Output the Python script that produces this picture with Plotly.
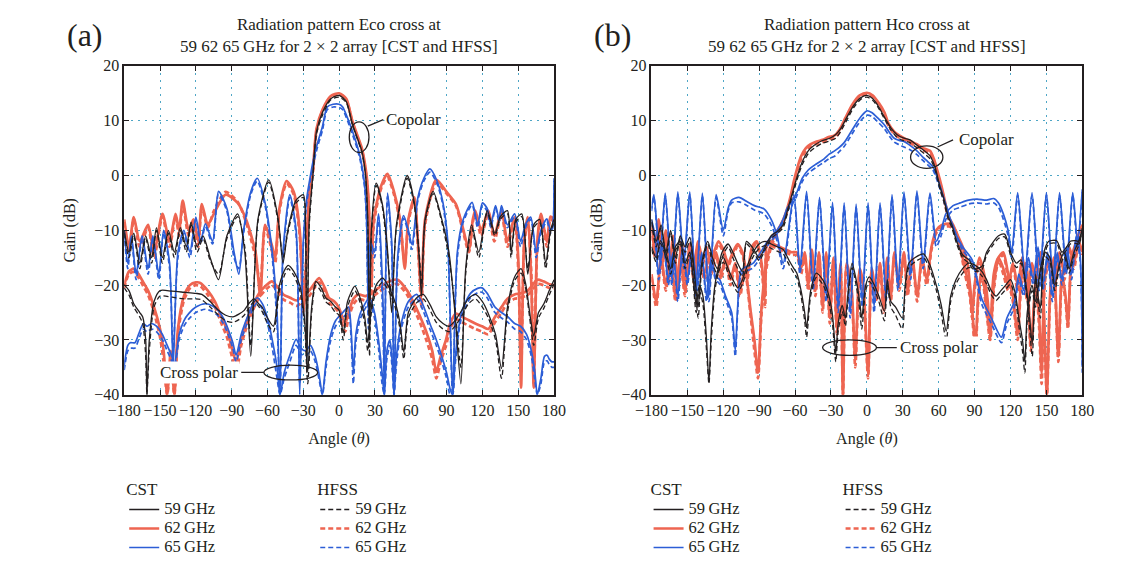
import plotly.graph_objects as go

# ---------------- data: (angle deg, CST gain dB, HFSS gain dB) ----------------
ANGLE_TICKS = list(range(-180, 181, 30))
GAIN_TICKS = list(range(-40, 21, 10))
FREQS = ["59", "62", "65"]

# Panel (a) Eco – copolar
A_CO59 = [(-180,-10,-10.5),(-176,-14,-15),(-172,-10.5,-11),(-167,-16,-17),(-162,-11,-11.5),(-157,-15,-16),
 (-153,-9.5,-10),(-148,-15,-16),(-143,-10,-10.5),(-138,-14,-15),(-133,-9.5,-10),(-128,-13,-14),(-124,-8.5,-9),
 (-119,-13,-14),(-114,-11,-11.5),(-108,-15,-15.5),(-101,-19,-18),(-94,-11,-11.5),(-85,-7,-7.5),(-79,-14,-13),
 (-74,-33,-31),(-68,-8,-8.5),(-59,-0.8,-1.2),(-51,-8,-8.5),(-47,-16,-15),(-43,-10,-10.5),(-36,-4.5,-5),
 (-30,-3.5,-4),(-28,-12,-11),(-27,-36,-30),(-25,-8,-9),(-22,0,-0.5),(-19,8,7.5),(-14,11.5,11),(-7,14,13.8),
 (0,14.6,14.3),(6,13.5,13.3),(11,9.5,9.3),(15,7,6.8),(19,4.5,4.2),(22,0.5,0),(24,-8,-9),(25.5,-30,-33),
 (27,-10,-11),(31,-1.4,-1.8),(36,-5,-5.5),(40,-12,-13),(44,-25,-22),(48,-9,-9.5),(57,0,-0.5),(63,-5,-5.5),
 (67,-15,-14),(69,-22,-20),(72,-8,-8.5),(78.7,-2.9,-3.3),(86,-8,-8.5),(92,-14,-15),(97,-25,-24),(102,-38,-35),
 (106,-17,-18),(111,-9,-9.5),(117,-14,-15),(124,-6.4,-6.8),(130.5,-10.5,-11),(135,-7.5,-8),(141,-6.4,-7),
 (144,-14,-15),(148,-8,-8.5),(153,-7,-7.5),(158,-18,-17),(163,-9,-9.5),(168,-8,-8.5),(173,-16,-17),
 (177,-10,-10.5),(180,-8,-8.5)]
A_CO62 = [(-180,-8,-8.5),(-176,-13,-14),(-172,-7.6,-8),(-167,-12,-13),(-160,-9,-9.5),(-155,-14,-15),(-148,-7,-7.5),
 (-142,-12,-13),(-137,-7,-7.5),(-134,-10,-11),(-131,-4.6,-5.2),(-126,-10,-11),(-122,-8,-8.5),(-118,-12,-13),
 (-115,-5.2,-5.8),(-110,-9,-9.5),(-105,-7,-6.5),(-95,-3.5,-3),(-85,-5,-4.8),(-78,-8,-8.5),(-70,-14,-15),
 (-66,-22,-20),(-62,-9,-9.5),(-56,-13,-14),(-53.6,-15,-16),(-50,-6,-6.5),(-44,-1,-1.5),(-38,-3,-3.5),
 (-33,-10,-11),(-30,-25,-22),(-28,-18,-17),(-25,-3,-3.5),(-22,1,0.5),(-19,8.5,8),(-14,12,11.8),(-7,14.5,14.3),
 (0,15,14.8),(6,14,13.8),(11,10,9.8),(15,7.5,7.2),(19,5,4.7),(23,0,-0.5),(25,-6,-7),(27,-20,-22),(29,-8,-9),
 (35,-2,-2.5),(40.5,0.3,-0.3),(46,-3,-3.5),(51,-8,-8.5),(55,-17,-16),(58,-8,-8.5),(63,-4,-4.5),(66,-12,-13),
 (69,-22,-24),(72,-8,-9),(81.4,-0.8,-1.3),(90,-3,-3.3),(97.8,-5.2,-5.5),(103,-9,-9.5),(108.7,-13.5,-14),
 (112,-8,-8.5),(114,-6.4,-7),(119,-10,-11),(125,-6.4,-7),(130,-11,-12),(136,-6.4,-7),(141,-12,-13),
 (147,-7.6,-8),(150,-15,-17),(152.4,-38.7,-36),(155,-12,-13),(158,-7.6,-8),(161,-20,-18),(163,-38.7,-38),
 (166,-12,-13),(169,-7,-7.5),(174,-12,-13),(177,-7.5,-8),(180,-8,-8.5)]
A_CO65 = [(-180,-10,-10.5),(-177,-16,-17),(-174,-11,-11.5),(-170,-18,-19),(-165,-11,-11.5),(-160,-17,-18),
 (-156,-11,-11.5),(-151,-18,-19),(-147,-10,-10.5),(-142,-16,-17),(-139,-34.6,-32),(-135,-14,-15),(-130,-10,-10.5),
 (-125,-14,-15),(-120,-7.6,-8),(-116,-12,-12.5),(-112,-8.8,-9.3),(-106,-12,-12.5),(-101,-2.9,-3.4),(-94,-6,-6.5),
 (-88,-14,-15),(-84,-18,-17),(-80,-10,-10.5),(-74,-3,-3.5),(-68.6,-0.5,-1),(-62,-5,-5.5),(-56,-14,-15),
 (-52,-25,-27),(-49.5,-40,-40),(-47,-14,-15),(-41.3,-3.5,-4),(-36,-10,-11),(-33,-40,-38),(-30,-12,-13),
 (-27,-4,-4.8),(-24,0,-0.8),(-22,2.4,1.6),(-18,6,5.3),(-14,8.9,8.2),(-10,12.5,12),(-5,13,12.5),(0,13,12.4),
 (3,12.5,12),(7,10.5,10),(11,8.2,7.6),(15,5.5,5),(18,3,2.4),(21.4,-1.7,-2.3),(23,-8,-9),(24.5,-25,-28),
 (26,-12,-13),(29.6,-14,-15),(33,-7,-7.5),(37,-25,-30),(37.8,-40,-40),(40.5,-3.2,-3.8),(44,-12,-13),
 (46,-40,-40),(49,-15,-16),(54,-7.3,-7.8),(58,-10,-10.5),(61,-12.6,-13.5),(66,-4,-4.5),(71,-0.5,-1),
 (76,1.2,0.6),(82,-1,-1.5),(87,-5,-5.5),(91,-12,-13),(95,-40,-40),(99,-14,-15),(104,-8,-8.5),
 (111.4,-4.9,-5.4),(116,-9,-9.5),(120,-5,-5.5),(124,-6,-6.5),(127,-9,-9.5),(131,-5.5,-6),(134,-8,-8.5),
 (136,-5.5,-6),(141,-9,-9.5),(147,-7,-7.5),(152,-12,-13),(156,-9,-9.5),(160.5,-7.6,-8),(165,-14,-15),
 (169,-10,-10.5),(174,-7.9,-8.4),(177,-10,-10.5),(179,-9,-9.5),(180,-0.5,-1)]

# Panel (a) Eco – cross polar
A_X59 = [(-180,-19.9,-20.5),(-176,-21,-21.8),(-172,-23.4,-24),(-167,-25,-25.8),(-164.5,-25.8,-27),(-162,-30,-33),
 (-161,-40,-40),(-159,-30,-32),(-155,-23,-24),(-150,-21,-22),(-140,-21.1,-22.2),(-130,-21.3,-22.5),
 (-120,-21.5,-22.5),(-115,-21.7,-22.7),(-108,-23,-24),(-101,-24.6,-25.5),(-95,-25.5,-26.5),(-89,-25.8,-26.8),
 (-84,-25.3,-26.3),(-79.5,-24.6,-25.5),(-75,-23.2,-24),(-71.3,-22.5,-23),(-67,-23.5,-24),(-64.5,-24,-24.8),
 (-60,-26,-27),(-55,-27.5,-28.5),(-50,-20,-21),(-45,-17,-17.8),(-42.7,-16.4,-17),(-38,-17.5,-18.2),
 (-33,-20,-21),(-29,-26,-27),(-26.3,-35.8,-38),(-23,-24,-25),(-19.5,-19.3,-20),(-15,-20.5,-21.2),
 (-11.3,-22.3,-23),(-7,-23,-23.8),(-3,-24,-25),(0,-24.6,-25.5),(3.5,-28.7,-30),(7,-23,-24),(13.2,-20.2,-21),
 (17,-22,-22.8),(21.4,-25.8,-27),(24,-30.5,-32),(27,-24,-25),(31,-20,-21),(36.4,-18.7,-19.5),(42,-20.5,-21.3),
 (47.3,-23.4,-24.3),(51,-27,-28),(54.2,-32.2,-33.5),(58,-25,-26),(65,-22.3,-23.2),(70.5,-21.7,-22.5),
 (76,-23.5,-24.5),(81.4,-25.8,-26.8),(87,-27,-28),(92.3,-27.5,-28.5),(97,-26.5,-27.5),(103,-24.5,-25.5),
 (108,-22.5,-23.5),(114,-21.7,-22.5),(120,-23,-24),(125,-25.2,-26),(131,-29,-30),(136,-35.2,-37),
 (141,-24,-25),(147,-18.5,-19.2),(152.4,-17,-17.8),(156,-19.5,-20.3),(160.5,-26.4,-27.5),(163,-29.3,-31),
 (167,-25,-26),(171.5,-23.4,-24.2),(176,-21,-21.8),(180,-19,-19.8)]
A_X62 = [(-180,-20,-20.5),(-176,-17.5,-18),(-172,-17,-17.6),(-168,-18,-18.6),(-164,-19.5,-20.2),(-160,-21,-21.8),
 (-155,-24,-25),(-150,-28,-29.5),(-147,-32,-34),(-144,-40,-40),(-141,-32,-34),(-138,-40,-40),(-135,-28,-29),
 (-130,-22,-22.8),(-125,-20,-20.6),(-120,-19.5,-20),(-116.3,-19.6,-20.2),(-110,-21,-21.8),(-104,-23,-24),
 (-98.6,-25.8,-27),(-94,-28,-29.5),(-90.4,-31,-32.5),(-86.3,-34,-36),(-82,-30,-31),(-78,-27,-28),
 (-74,-24.6,-25.5),(-67,-21.5,-22.3),(-60.4,-19.9,-20.6),(-56.3,-19.3,-20),(-51,-20.5,-21.3),
 (-46.8,-21.7,-22.6),(-41,-22.3,-23.2),(-35.8,-22.8,-23.8),(-30,-22,-23),(-25,-21,-22),(-20,-19.5,-20.3),
 (-16.7,-18.7,-19.5),(-12,-20.5,-21.3),(-8.6,-22.3,-23.2),(-4,-23,-24),(-0.4,-24,-25),(5,-27,-28.5),
 (8,-25,-26),(12,-22.5,-23.5),(16,-21.7,-22.5),(22,-22,-22.8),(27,-21.5,-22.3),(33,-20.5,-21.3),
 (40,-19.5,-20.3),(48.7,-19,-19.8),(57,-21,-21.8),(62,-23,-24),(68,-25.8,-27),(73,-28.5,-30),(78,-32,-33.5),
 (81.4,-35.8,-37),(85,-33,-34),(89.6,-29.9,-31),(93,-27,-28),(97.8,-25.2,-26.2),(103,-25.8,-26.8),
 (108.7,-26.4,-27.4),(114,-27,-28),(119.6,-27.5,-28.5),(125,-28,-29),(130,-26,-27),(136,-24,-25),
 (141,-22.5,-23.3),(147,-21.7,-22.5),(152,-21.5,-22.3),(158,-21,-21.8),(162,-20,-20.8),(166,-19,-19.8),
 (171,-19.3,-20),(177,-19.9,-20.6),(180,-20,-20.6)]
A_X65 = [(-180,-34.6,-35.5),(-177,-31,-32),(-175,-30.5,-31.5),(-171,-30.5,-31.5),(-168,-29,-30),(-164,-27,-28),
 (-161,-27.5,-28.5),(-157,-27,-28),(-153,-27.5,-28.5),(-148,-29,-30),(-144,-31,-32),(-140,-33,-34),
 (-138,-34.6,-35.5),(-134,-29,-30),(-130,-26.5,-27.5),(-126,-25.2,-26.2),(-120,-24,-25),(-112.2,-23.4,-24.4),
 (-106,-23.8,-24.8),(-101.3,-24.6,-25.6),(-97,-26,-27),(-93,-28,-29),(-89,-30.5,-31.5),(-86.3,-32.8,-34),
 (-82,-29,-30),(-76.8,-25.8,-26.8),(-72,-23.3,-24.2),(-68.6,-22.3,-23.2),(-64,-23.5,-24.5),(-60,-26,-27),
 (-56,-30,-31.5),(-52,-35,-37),(-49.5,-40,-40),(-46,-36,-37),(-41.3,-32.8,-34),(-36,-29.9,-31),
 (-32,-31.5,-32.5),(-28,-32,-33),(-24,-31,-32),(-20,-33,-34),(-17,-36,-37),(-14,-40,-40),(-11,-34,-35),
 (-7,-29,-30),(-3,-26.5,-27.5),(-0.4,-25.8,-26.8),(3,-25,-26),(7.8,-24,-25),(10,-28,-29.5),(11.9,-35.8,-38),
 (14,-29,-30.5),(18,-25,-26),(25.5,-22.3,-23.2),(29.6,-25,-26),(33,-30,-31.5),(36,-36,-38),(37.8,-40,-40),
 (40,-32,-33.5),(42.5,-30,-31),(44.5,-34,-35.5),(46,-40,-40),(48,-33,-34.5),(52,-27,-28),(58,-23,-24),
 (65,-21.7,-22.5),(70,-23.5,-24.5),(76,-27,-28),(81.4,-30,-31),(86,-33,-34),(90,-36,-37),(93,-39,-40),
 (95,-40,-40),(97,-34,-35),(100,-28,-29),(103,-24.6,-25.5),(110,-21.5,-22.3),(116,-20.6,-21.4),
 (119.6,-20.5,-21.3),(124,-21.5,-22.3),(130.5,-24,-25),(136,-25,-26),(141.4,-25.8,-26.8),(147,-27,-28),
 (152,-27.5,-28.5),(157,-29,-30),(161,-32,-33),(164,-36,-37.5),(166,-40,-40),(169,-37,-38),(172,-33,-34),
 (174.2,-32.8,-33.8),(176,-33.5,-34.5),(178.3,-34,-35),(180,-34,-35)]

# Panel (b) Hco – copolar
B_CO59 = [(-180,-8,-8.5),(-176,-12,-13),(-172,-9,-9.5),(-168,-14,-15),(-164,-10,-10.5),(-160,-15,-16),
 (-156,-11,-11.5),(-152,-13,-14),(-148,-11.3,-12),(-144,-18,-19),(-141,-24,-26),(-138,-16,-17),(-133,-12,-12.5),
 (-129,-15,-16),(-125,-17,-18),(-121,-14,-15),(-116,-12.5,-13),(-112,-14,-15),(-108,-16,-17),(-104,-17.5,-18.5),
 (-100.7,-12,-12.5),(-96,-13,-13.5),(-90,-15,-15.5),(-85,-13,-13.5),(-80,-11,-11.5),(-75,-10.2,-10.6),
 (-70,-9,-9.5),(-66,-6,-6.5),(-62,-3,-3.5),(-58,0,-0.5),(-54,2.5,2),(-49,4.5,4),(-44,5.5,5),(-38,6.3,5.8),
 (-31,6.8,6.3),(-26,7.5,6.8),(-22,8.5,8),(-17,10.5,10),(-11,12.8,12.4),(-5,14.2,13.9),(0,14.6,14.3),
 (5,14,13.7),(10,12.5,12.2),(15,10.5,10.2),(20,8.7,8.3),(25,7.5,7),(31,6.8,6.3),(36,6.5,6),(42,5.5,5),
 (48,4.5,4),(53,3.5,3),(57,1.5,1),(61,-2,-2.5),(64,-4,-4.5),(68,-7.5,-8),(71,-9,-9.5),(75,-12,-12.5),
 (80,-14.5,-15),(85.3,-15.4,-16),(90,-17,-17.5),(96,-16.6,-17.2),(100,-14,-14.5),(104.3,-12.5,-13),
 (110,-11,-11.5),(115.1,-10.7,-11.2),(120.6,-14.3,-15),(125,-16,-16.8),(128.7,-15.4,-16),(133,-20,-21),
 (136,-26,-28),(138.2,-30.7,-33),(141,-18,-19),(143,-22,-23),(145,-24.2,-26),(148,-14,-14.8),(152,-12,-12.5),
 (158.6,-11.9,-12.4),(163,-14,-14.8),(167,-13,-13.5),(170,-12,-12.5),(174.8,-11.9,-12.4),(177,-12,-12.5),
 (180,-9.6,-10)]
B_CO62 = [(-180,-9,-9.5),(-177,-14,-15),(-174,-8,-8.5),(-171,-16,-17),(-168,-10,-10.5),(-165,-18,-19),
 (-162,-11,-11.5),(-158,-20,-21),(-155,-12,-12.5),(-151,-19,-20),(-148,-12.5,-13),(-145,-17,-18),(-141,-12,-12.5),
 (-138,-16,-17),(-134,-13,-13.5),(-130,-17,-18),(-126,-14,-14.5),(-122,-18,-19),(-118,-15,-15.5),(-114,-19,-20),
 (-110,-16,-16.5),(-106,-21,-22),(-102,-17,-17.5),(-97,-25,-26),(-94,-30,-32),(-91,-36,-37),(-88,-24,-25),
 (-84,-16,-17),(-80,-12.5,-13),(-76,-10.5,-11),(-72,-9,-9.5),(-68,-7,-7.5),(-64,-4,-4.5),(-61,-1,-1.5),
 (-58,1.5,1),(-55,3.5,3),(-51,5,4.5),(-47,5.7,5.3),(-42,6.2,5.8),(-37,6.5,6.1),(-32,7,6.6),(-27,7.3,6.9),
 (-23,8.3,7.9),(-18,10.5,10.1),(-12,13,12.6),(-6,14.6,14.3),(0,15.1,14.8),(5,14.6,14.3),(10,13.2,12.9),
 (14.7,11.5,11.1),(18,9.5,9.1),(22.8,8,7.6),(27,7.3,6.9),(31,6.8,6.4),(36,6.3,5.9),(41.8,5.7,5.3),(47,5,4.6),
 (52.7,4.5,4.1),(56,3,2.6),(58.1,1.5,1.1),(61,-0.8,-1.2),(63.6,-3.1,-3.5),(66,-5.5,-6),(69,-7.8,-8.3),
 (72,-9,-9.5),(76,-11,-11.5),(80,-13,-13.5),(84,-16,-17),(87,-22,-23),(90.7,-30.7,-32),(93,-22,-23),
 (96,-17,-18),(99,-22,-23),(103,-29,-30),(106,-20,-21),(110,-15,-15.5),(114,-14,-14.5),(118,-18,-19),
 (122,-22,-23),(126,-29,-30),(129,-19,-20),(133,-16,-16.5),(137,-31.3,-32),(141,-19,-20),(145,-14,-14.5),
 (148,-25,-27),(150.4,-40,-40),(153,-22,-23),(156,-15,-15.5),(160,-33,-34),(163,-18,-19),(166,-22,-23),
 (168,-27.2,-28),(171,-15,-15.5),(175,-12,-12.5),(178,-10,-10.5),(180,-9,-9.5)]
B_CO65 = [(-180,-8,-8.5),(-177,-11,-12),(-174,-18,-19),(-170,-12,-12.5),(-166,-19,-20),(-162,-14,-14.5),
 (-158,-22,-23),(-154,-13,-13.5),(-150,-19,-20),(-146,-13,-13.5),(-142,-20,-21),(-138,-14,-14.5),(-134,-22,-23),
 (-130,-15,-16),(-126.5,-18.4,-19),(-123,-19,-19.8),(-118.3,-21.9,-22.5),(-113,-25,-26),(-110,-31.9,-33),
 (-108,-24,-25),(-104.7,-17.2,-18),(-95,-16,-16.8),(-83,-12,-12.8),(-75,-10,-10.6),(-70,-8,-8.5),
 (-66.7,-6,-6.6),(-62,-4.5,-5.1),(-58.6,-3.1,-3.7),(-54,-0.5,-1.1),(-49,1,0.4),(-42.3,2.1,1.5),(-36,3,2.4),
 (-31.5,3.9,3.1),(-27,4.5,3.5),(-23.3,5.1,4.3),(-19,6,5.3),(-14,7.7,7),(-9,9.5,8.8),(-4,11,10.3),(0,11.8,11),
 (4,11.5,10.8),(9,10.5,9.8),(14.7,9.2,8.5),(19,7.8,7.1),(22.8,6.8,6.1),(27,6.4,5.6),(31,6.2,5.2),(36,5.5,4.7),
 (41.8,4.5,3.8),(47,3.3,2.7),(51,2.5,1.9),(55.4,1.5,0.9),(59,-0.5,-1.1),(62,-2.5,-3.1),(66.3,-5.5,-6.1),
 (69,-7.5,-8.1),(71.7,-9,-9.6),(75,-11,-11.6),(80,-13,-13.6),(88,-15.4,-16),(96,-22.5,-23.5),(104,-26,-27),
 (112.4,-29.5,-30.5),(117,-26,-27),(123.3,-23,-24),(127,-18,-19),(131,-21,-22),(135,-15,-16),(139,-19,-20),
 (143,-13,-14),(147,-20,-21),(151,-14,-15),(155,-22,-23),(159,-14,-15),(163,-19,-20),(167,-13,-14),
 (171,-18,-19),(175,-11,-12),(178,-14,-15),(180,-35,-36)]

# Panel (b) Hco – cross polar
B_X59 = [(-180,-13,-13.5),(-176,-15,-15.8),(-172.6,-11.9,-12.4),(-168,-14,-14.8),(-164,-17,-18),(-160,-13,-13.6),
 (-156,-12,-12.5),(-152,-16,-17),(-148,-14,-14.6),(-145,-19,-20),(-142.7,-23.7,-25),(-140,-20,-21),
 (-137,-22,-23.5),(-134,-30,-32),(-132,-37.7,-38),(-130,-28,-30),(-127,-20,-21),(-123.7,-16.6,-17.4),
 (-120,-15,-15.8),(-116,-17,-17.8),(-112,-19,-19.8),(-108,-20.5,-21.3),(-104,-19,-19.8),(-100,-16.5,-17.3),
 (-95,-14,-14.8),(-90,-12.5,-13.3),(-85,-12,-12.8),(-80,-12.5,-13.3),(-75,-13,-13.8),(-70,-13.5,-14.3),
 (-65,-15.5,-16.3),(-61,-17,-17.8),(-58.6,-17.8,-18.6),(-55,-21,-22),(-52,-25,-26.5),(-50.4,-27.8,-29.5),
 (-47,-21,-22),(-42.3,-17.8,-18.6),(-37,-19,-19.8),(-33,-21,-22),(-29,-25,-26.5),(-27,-30,-32),
 (-26,-32.5,-34),(-24,-27,-28.5),(-20.6,-23.7,-24.8),(-18,-26,-27.5),(-16,-22,-23),(-12.4,-16,-16.8),
 (-9,-19,-20),(-6,-23,-24.5),(-4.3,-26,-28),(-1,-20,-21),(2,-18.5,-19.3),(6.5,-20.1,-21),(10,-22,-23),
 (14.7,-24.8,-26.5),(17,-19,-20),(20,-23,-24),(24,-24,-25.5),(29.6,-26,-28),(32,-20,-21),(35,-16,-16.8),
 (40,-15,-15.8),(47.3,-14.3,-15),(53,-16.5,-17.3),(58.1,-20.1,-21),(62,-23.5,-25),(66.3,-28.4,-30),
 (70,-22,-23),(74.4,-19,-19.8),(80,-17,-17.8),(85,-16,-16.8),(90,-16.3,-17),(96,-17.5,-18.3),(100,-19,-19.8),
 (104,-21,-21.8),(108,-22,-22.8),(112,-21,-21.8),(116,-20,-20.8),(120,-19,-19.8),(124,-21.5,-22.5),
 (127,-26,-27.5),(130,-30,-32),(132,-34,-36),(134,-25,-26.5),(138,-20,-21),(141,-23,-24),(145,-17,-17.8),
 (149,-14,-14.8),(153,-15,-15.8),(157,-20,-21),(161,-16,-16.8),(165,-14,-14.8),(169,-17,-17.8),
 (173,-14,-14.8),(177,-12,-12.8),(180,-10,-10.8)]
B_X62 = [(-180,-18,-18.5),(-176,-23,-24),(-172,-15,-15.5),(-168,-20,-21),(-164,-14,-14.5),(-160,-22,-23),
 (-156,-15,-15.5),(-152,-21,-22),(-148,-14,-14.5),(-144,-19,-20),(-140,-13,-13.5),(-136,-18,-19),
 (-132,-15,-15.5),(-128,-14,-14.5),(-124,-12,-12.5),(-120,-13.5,-14),(-116,-16,-16.5),(-112,-14,-14.5),
 (-108,-12.5,-13),(-104,-14,-14.5),(-100,-18,-19),(-96,-13,-13.5),(-92,-12,-12.5),(-88,-16,-17),
 (-85,-22,-24),(-83,-12,-12.5),(-78,-12.5,-13),(-73,-13,-13.5),(-68,-13.5,-14),(-63,-14,-14.5),
 (-58.6,-14,-14.5),(-55,-17,-18),(-52,-14,-14.5),(-49,-20,-21),(-46,-13.5,-14),(-43,-21,-22),(-40,-14,-14.5),
 (-37,-24,-25),(-34,-14,-14.5),(-31,-26,-27),(-28,-15,-15.5),(-25,-28,-29),(-22,-16,-16.5),(-20,-40,-40),
 (-17,-16,-16.5),(-13,-20,-21),(-9.7,-33.6,-35),(-6,-17,-17.5),(-3,-20,-21),(1,-36,-37),(4,-17,-17.5),
 (8,-22,-23),(11,-16,-16.5),(14,-24,-25),(17,-15,-15.5),(20,-22,-23),(23,-14,-14.5),(27,-20,-21),
 (31,-14,-14.5),(34,-21,-22),(38,-15,-15.5),(42,-22,-23),(46,-15,-15.5),(50,-19,-20),(54,-13,-13.5),
 (58,-10,-10.5),(63,-9,-9.5),(69,-8.8,-9.3),(74,-10,-10.5),(78,-13,-13.5),(82,-17,-18),(86,-21,-22),
 (88,-25,-26),(90,-20,-21),(94,-15,-15.5),(98,-18,-19),(101,-23,-24),(103,-29,-30),(106,-18,-19),
 (110,-15,-15.5),(114,-17,-18),(118,-20,-21),(122,-16,-16.5),(126,-20,-21),(130,-15,-15.5),(134,-22,-23),
 (138,-16,-16.5),(142,-21,-22),(144,-26,-28),(146,-36,-38),(149,-18,-19),(153,-15,-15.5),(157,-20,-21),
 (161,-14,-14.5),(165,-18,-19),(169,-13,-13.5),(173,-16,-17),(177,-12,-12.5),(180,-14,-14.5)]
B_X65 = [(-180,-6,-6.5),(-178,-3.5,-4),(-173,-15,-16),(-168.5,-3.2,-3.7),(-163,-19,-20),(-158,-3,-3.5),
 (-153,-16,-17),(-148,-3,-3.5),(-143,-21,-22),(-137.5,-3.2,-3.7),(-132,-22,-23),(-126,-3.5,-4),(-120,-10,-11),
 (-116,-6,-6.5),(-113,-4.5,-5),(-107,-4,-4.8),(-100,-4.8,-5.5),(-94,-5.5,-6.3),(-86,-6.1,-7),(-80,-8,-9),
 (-75,-11,-12),(-70,-16,-17),(-61,-3.5,-4),(-56,-17,-18),(-50.4,-2.9,-3.5),(-45,-20,-21),(-39.6,-4,-4.6),
 (-34,-22,-23),(-28.7,-4.9,-5.5),(-24,-24,-25),(-19,-5,-5.6),(-14,-25,-26),(-9,-5.2,-5.8),(-4,-23,-24),
 (1,-5,-5.6),(6,-24,-25),(11,-5,-5.6),(16,-22,-23),(21,-3.5,-4.1),(26,-20,-21),(31,-3,-3.6),(36.5,-18,-19),
 (41.8,-2.8,-3.4),(47,-16,-17),(52.7,-3.2,-3.8),(58,-12,-13),(62,-10,-11),(66,-7,-8),(72,-5.5,-6.3),
 (78,-5,-5.8),(85,-4.5,-5.2),(92,-4.3,-5),(100,-4.5,-5.2),(106,-4.2,-5),(110,-5,-5.8),(114,-7,-8),
 (118,-10,-11),(121,-14,-15),(126,-3.1,-3.6),(132,-18,-19),(138,-3.1,-3.6),(144,-20,-21),(150,-3.1,-3.6),
 (155.5,-19,-20),(161,-3.1,-3.6),(166.5,-17,-18),(172,-3.1,-3.6),(176,-12,-13),(180,-2.5,-3)]

PANELS = [
    {"co": {"59": A_CO59, "62": A_CO62, "65": A_CO65}, "x": {"59": A_X59, "62": A_X62, "65": A_X65}},
    {"co": {"59": B_CO59, "62": B_CO62, "65": B_CO65}, "x": {"59": B_X59, "62": B_X62, "65": B_X65}},
]

# ---------------- style ----------------
FONT = "Liberation Serif, Times New Roman, serif"
INK = "#231f20"
COLORS = {"59": "#231f20", "62": "#ee6551", "65": "#2c5ed6"}
WIDTHS = {"59": 1.3, "62": 2.7, "65": 1.7}
DASH = "5px,3px"
W, H = 1144, 563
PX = [(110, 551), (651, 1093)]
PY = (60, 401)

fig = go.Figure()
legends = [("legend", "legend2"), ("legend3", "legend4")]
for p, panel in enumerate(PANELS):
    xa = "x" if p == 0 else "x2"
    ya = "y" if p == 0 else "y2"
    for freq in ["62", "65", "59"]:
        rank = FREQS.index(freq) + 1
        label = f'<span style="font-size:16.5px">{freq}\u2009GHz</span>'
        for kind in ["x", "co"]:
            rows = panel[kind][freq]
            ang = [r[0] for r in rows]
            cst = [r[1] for r in rows]
            hfss = [r[2] for r in rows]
            show = kind == "co"
            fig.add_trace(go.Scatter(
                x=ang, y=hfss, mode="lines", xaxis=xa, yaxis=ya,
                name=label, legend=legends[p][1], legendrank=rank, showlegend=show,
                line=dict(color=COLORS[freq], width=WIDTHS[freq], dash=DASH, shape="spline", smoothing=0.7),
                hoverinfo="skip"))
            fig.add_trace(go.Scatter(
                x=ang, y=cst, mode="lines", xaxis=xa, yaxis=ya,
                name=label, legend=legends[p][0], legendrank=rank, showlegend=show,
                line=dict(color=COLORS[freq], width=WIDTHS[freq], shape="spline", smoothing=0.7),
                hoverinfo="skip"))

def xaxis_cfg(i):
    x0, x1 = PX[i]
    return dict(domain=[x0 / W, x1 / W], range=[-180, 180], tickvals=ANGLE_TICKS,
                showgrid=True, gridcolor="#4ea6c6", griddash="2px,5px", gridwidth=1.2,
                showline=True, linecolor=INK, linewidth=1.6, mirror="allticks",
                ticks="inside", ticklen=5, tickcolor=INK, zeroline=False,
                tickfont=dict(family=FONT, size=16, color=INK),
                anchor="y" if i == 0 else "y2",
                title=dict(text="Angle (<i>θ</i>)", font=dict(family=FONT, size=16, color=INK)))

def yaxis_cfg(i):
    return dict(domain=[1 - PY[1] / H, 1 - PY[0] / H], range=[-40, 20], tickvals=GAIN_TICKS,
                showgrid=True, gridcolor="#4ea6c6", griddash="2px,5px", gridwidth=1.2,
                showline=True, linecolor=INK, linewidth=1.6, mirror="allticks",
                ticks="inside", ticklen=5, tickcolor=INK, zeroline=False,
                tickfont=dict(family=FONT, size=16, color=INK),
                anchor="x" if i == 0 else "x2",
                title=dict(text="Gain (dB)", font=dict(family=FONT, size=16, color=INK)))

def legend_cfg(title, xpx):
    return dict(title=dict(text=title, font=dict(family=FONT, size=17, color=INK)),
                x=xpx / W, y=1 - 482 / H, xanchor="left", yanchor="top",
                bgcolor="rgba(0,0,0,0)", font=dict(family=FONT, size=11, color=INK),
                tracegroupgap=0, itemwidth=30, traceorder="normal")

fig.update_layout(
    width=W, height=H, margin=dict(l=0, r=0, t=0, b=0),
    paper_bgcolor="white", plot_bgcolor="white",
    xaxis=xaxis_cfg(0), yaxis=yaxis_cfg(0), xaxis2=xaxis_cfg(1), yaxis2=yaxis_cfg(1),
    legend=legend_cfg("CST", 110), legend2=legend_cfg("HFSS", 306),
    legend3=legend_cfg("CST", 648), legend4=legend_cfg("HFSS", 845),
    font=dict(family=FONT, color=INK),
)

titles = ["Radiation pattern Eco cross at", "Radiation pattern Hco cross at"]
for i, (t, lab) in enumerate(zip(titles, ["(a)", "(b)"])):
    cx = (PX[i][0] + PX[i][1]) / 2
    fig.add_annotation(xref="paper", yref="paper", x=cx / W, y=1 - 29 / H, xanchor="center", yanchor="middle",
                       text=t + "<br>59 62 65\u2009GHz for 2 × 2 array [CST and HFSS]", showarrow=False,
                       font=dict(family=FONT, size=17, color=INK))
    fig.add_annotation(xref="paper", yref="paper", x=(PX[i][0] - 40) / W, y=1 - 28 / H, xanchor="center",
                       yanchor="middle", text=lab, showarrow=False, font=dict(family=FONT, size=32, color=INK))

# Copolar / Cross polar call-outs (data coordinates)
callouts = [
    ("x", "y", (8.5, 25, 4.2, 9.8), (24, 9.0, 37, 10.2), 38, 10.2, "Copolar", "left"),
    ("x", "y", (-63, -18, -37.3, -34.6), (-82, -35.9, -63, -35.9), -83, -35.9, "Cross polar", "right"),
    ("x2", "y2", (36.5, 63.5, 1.3, 5.4), (59, 5.2, 72, 6.5), 75, 6.5, "Copolar", "left"),
    ("x2", "y2", (-37, 8, -32.8, -30), (8, -31.4, 25, -31.4), 26, -31.4, "Cross polar", "left"),
]
for xa, ya, (ex0, ex1, ey0, ey1), (lx0, ly0, lx1, ly1), tx, ty, txt, anc in callouts:
    fig.add_shape(type="circle", xref=xa, yref=ya, x0=ex0, x1=ex1, y0=ey0, y1=ey1,
                  line=dict(color=INK, width=1.3))
    fig.add_shape(type="line", xref=xa, yref=ya, x0=lx0, y0=ly0, x1=lx1, y1=ly1,
                  line=dict(color=INK, width=1.3))
    fig.add_annotation(xref=xa, yref=ya, x=tx, y=ty, text=txt, showarrow=False, xanchor=anc,
                       yanchor="middle", font=dict(family=FONT, size=17, color=INK), bgcolor="white")

fig.write_html("out.html")
